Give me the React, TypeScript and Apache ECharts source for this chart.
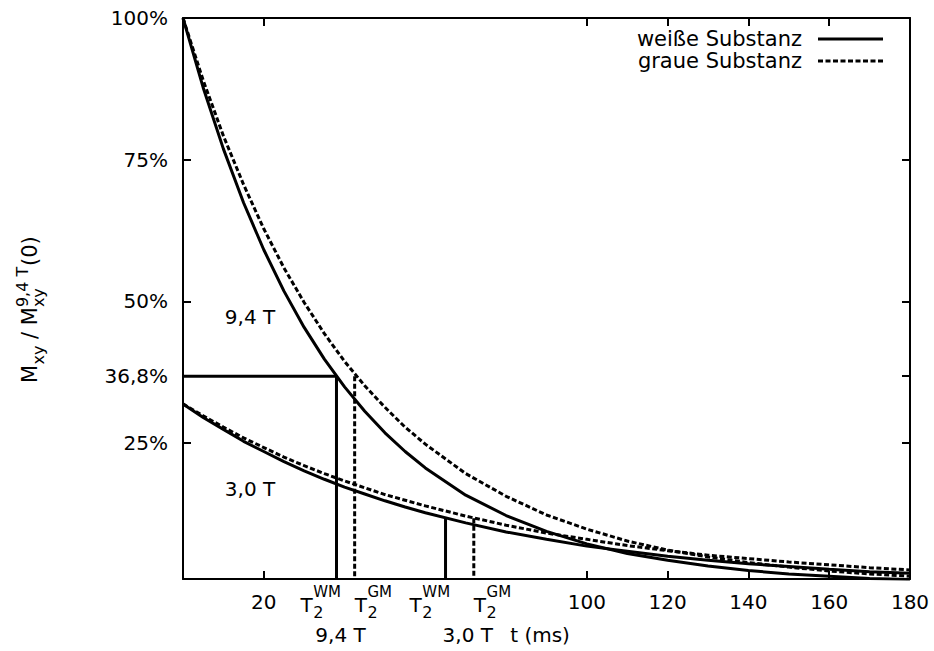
import React, { useEffect, useRef } from "react";
import * as echarts from "echarts";

// time samples (ms)
const tValues = [0, 5, 10, 15, 20, 25, 30, 35, 40, 45, 50, 55, 60, 70, 80, 90, 100, 110, 120, 130, 140, 150, 160, 170, 180];
// M_xy / M_xy^{9,4 T}(0) in %
const wm94 = [100, 87.7, 76.9, 67.4, 59.1, 51.8, 45.4, 39.8, 34.9, 30.6, 26.8, 23.5, 20.6, 15.8, 12.2, 9.4, 7.2, 5.5, 4.3, 3.3, 2.5, 1.9, 1.5, 1.1, 0.9];
const gm94 = [100, 89.0, 79.2, 70.6, 62.8, 55.9, 49.8, 44.3, 39.4, 35.1, 31.3, 27.8, 24.8, 19.6, 15.6, 12.3, 9.8, 7.7, 6.1, 4.9, 3.9, 3.1, 2.4, 1.9, 1.5];
const wm30 = [31.9, 29.5, 27.4, 25.3, 23.5, 21.7, 20.1, 18.6, 17.2, 16.0, 14.8, 13.7, 12.7, 10.9, 9.3, 8.0, 6.8, 5.9, 5.0, 4.3, 3.7, 3.2, 2.7, 2.3, 2.0];
const gm30 = [31.9, 29.8, 27.8, 25.9, 24.2, 22.5, 21.0, 19.6, 18.3, 17.1, 15.9, 14.9, 13.9, 12.1, 10.5, 9.1, 8.0, 6.9, 6.0, 5.2, 4.6, 4.0, 3.5, 3.0, 2.6];

// T2 times (ms) and levels (%)
const t2Wm94 = 38;
const t2Gm94 = 42.5;
const t2Wm30 = 65;
const t2Gm30 = 72;
const level94 = 36.8;
const level30 = 11.7;

const xMin = 0;
const xMax = 180;
const yMin = 1;
const yMax = 100;
const xTicks = [20, 100, 120, 140, 160, 180];
const yTicks = [25, 36.8, 50, 75, 100];

const legendNames = ["weiße Substanz", "graue Substanz"];
const labelPos94 = [16.6, 47.2];
const labelPos30 = [16.6, 16.8];
const fieldLabelT = [39, 70.5];
const axisNameT = 88.4;

const FONT = "DejaVu Sans";
const DASH = [5, 2.5];

const zip = (xs: number[], ys: number[]) => xs.map((x, i) => [x, ys[i]]);

function txt(text: string, x: number, y: number, size: number, align = "left", vAlign = "middle") {
  return {
    type: "text",
    x,
    y,
    silent: true,
    style: {
      text,
      fontSize: size,
      fontFamily: FONT,
      fill: "#000",
      align,
      verticalAlign: vAlign,
      textAlign: align,
      textVerticalAlign: vAlign,
    },
  };
}

export default function App() {
  const ref = useRef<HTMLDivElement>(null);
  useEffect(() => {
    if (!ref.current) return;
    const chart = echarts.init(ref.current, null, { renderer: "svg" });
    const axisLine = { show: true, onZero: false, lineStyle: { color: "#000", width: 2 } };
    const tick = (vals: number[]) => ({ show: true, inside: true, length: 8, customValues: vals, lineStyle: { color: "#000", width: 2 } });
    const curve = (name: string, data: number[][], dashed: boolean) => ({
      type: "line",
      name,
      data,
      symbol: "none",
      silent: true,
      lineStyle: { color: "#000", width: 3, type: dashed ? DASH : "solid" },
      z: 3,
    });
    const option: any = {
      animation: false,
      backgroundColor: "#fff",
      grid: { left: 183, right: 24, top: 18, bottom: 72, containLabel: false, outerBoundsMode: "none" },
      xAxis: [
        {
          type: "value", min: xMin, max: xMax, position: "bottom",
          axisLine, axisTick: tick(xTicks), splitLine: { show: false },
          axisLabel: { customValues: xTicks, fontSize: 20, fontFamily: FONT, color: "#000", margin: 13 },
        },
        {
          type: "value", min: xMin, max: xMax, position: "top",
          axisLine, axisTick: tick(xTicks), splitLine: { show: false }, axisLabel: { show: false },
        },
      ],
      yAxis: [
        {
          type: "value", min: yMin, max: yMax, position: "left",
          axisLine, axisTick: tick(yTicks), splitLine: { show: false },
          axisLabel: {
            customValues: yTicks, fontSize: 20, fontFamily: FONT, color: "#000", margin: 15,
            formatter: (v: number) => (Math.abs(v - 36.8) < 0.01 ? "36,8%" : `${v}%`),
          },
        },
        {
          type: "value", min: yMin, max: yMax, position: "right",
          axisLine, axisTick: tick(yTicks), splitLine: { show: false }, axisLabel: { show: false },
        },
      ],
      series: [
        curve("9,4 T weiße Substanz", zip(tValues, wm94), false),
        curve("9,4 T graue Substanz", zip(tValues, gm94), true),
        curve("3,0 T weiße Substanz", zip(tValues, wm30), false),
        curve("3,0 T graue Substanz", zip(tValues, gm30), true),
        curve("T2 WM 9,4 T", [[xMin, level94], [t2Wm94, level94], [t2Wm94, yMin]], false),
        curve("T2 GM 9,4 T", [[t2Gm94, level94], [t2Gm94, yMin]], true),
        curve("T2 WM 3,0 T", [[t2Wm30, level30], [t2Wm30, yMin]], false),
        curve("T2 GM 3,0 T", [[t2Gm30, level30], [t2Gm30, yMin]], true),
      ],
    };
    chart.setOption(option);

    const X = (t: number) => chart.convertToPixel({ xAxisIndex: 0 }, t) as number;
    const Y = (v: number) => chart.convertToPixel({ yAxisIndex: 0 }, v) as number;
    const axisY = Y(yMin);
    const gl = X(xMin);
    const gr = X(xMax);
    const gt = Y(yMax);

    const t2Label = (t: number, sup: string, leftSide: boolean) => {
      const px = X(t);
      const x0 = leftSide ? px - 36 : px;
      return [
        txt("T", x0, axisY + 25.5, 20),
        txt("2", x0 + 12.8, axisY + 33, 16),
        txt(sup, x0 + 12.8, axisY + 13, 15),
      ];
    };

    const graphics: any[] = [
      ...t2Label(t2Wm94, "WM", true),
      ...t2Label(t2Gm94, "GM", false),
      ...t2Label(t2Wm30, "WM", true),
      ...t2Label(t2Gm30, "GM", false),
      txt("9,4 T", X(fieldLabelT[0]), axisY + 56, 20, "center"),
      txt("3,0 T", X(fieldLabelT[1]), axisY + 56, 20, "center"),
      txt("t (ms)", X(axisNameT), axisY + 56, 20, "center"),
      txt("9,4 T", X(labelPos94[0]), Y(labelPos94[1]), 20, "center"),
      txt("3,0 T", X(labelPos30[0]), Y(labelPos30[1]), 20, "center"),
      // legend
      txt(legendNames[0], gr - 108, gt + 21, 21, "right"),
      txt(legendNames[1], gr - 108, gt + 43, 21, "right"),
      { type: "line", silent: true, shape: { x1: gr - 92, y1: gt + 21, x2: gr - 27, y2: gt + 21 }, style: { stroke: "#000", lineWidth: 3 } },
      { type: "line", silent: true, shape: { x1: gr - 92, y1: gt + 43, x2: gr - 27, y2: gt + 43 }, style: { stroke: "#000", lineWidth: 3, lineDash: DASH } },
      // y axis title
      {
        type: "group",
        x: gl - 146,
        y: axisY - 196,
        rotation: Math.PI / 2,
        silent: true,
        children: [
          txt("M", 0, -7.4, 21),
          txt("xy", 18.5, 1.4, 16),
          txt(" / ", 37.4, -7.4, 21),
          txt("M", 57.8, -7.4, 21),
          txt("xy", 75.9, 1.4, 16),
          txt("9,4 T", 75.9, -14.6, 16),
          txt("(0)", 117, -7.4, 21),
        ],
      },
    ];
    chart.setOption({ graphic: graphics });
    return () => chart.dispose();
  }, []);
  return <div ref={ref} style={{ position: "fixed", left: 0, top: 0, width: 934, height: 651, background: "#fff" }} />;
}
